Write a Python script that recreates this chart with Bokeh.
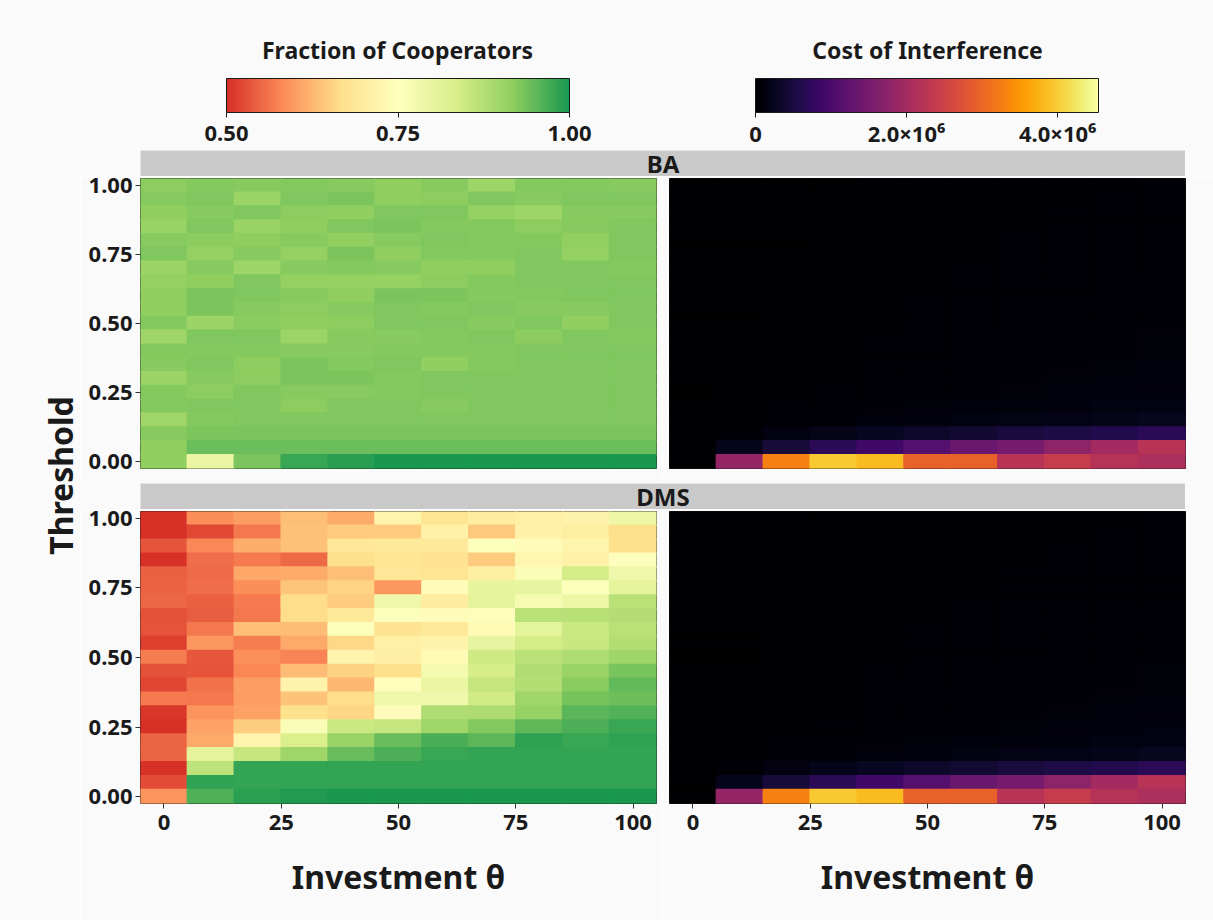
import numpy as np
from bokeh.plotting import figure
from bokeh.models import (ColumnDataSource, LinearColorMapper, ColorBar, FixedTicker,
                          Label, Range1d, PrintfTickFormatter, CustomJSTickFormatter)
from bokeh.layouts import row, column
from bokeh.transform import transform
from bokeh.palettes import Inferno256
from bokeh.embed import file_html
from bokeh.resources import INLINE

# ---------------- data ----------------
investment = [0, 10, 20, 30, 40, 50, 60, 70, 80, 90, 100]
# rows listed from threshold 1.00 (top) down to 0.00 (bottom)
threshold_top_down = [1.00, 0.95, 0.90, 0.85, 0.80, 0.75, 0.70, 0.65, 0.60, 0.55, 0.50,
                      0.45, 0.40, 0.35, 0.30, 0.25, 0.20, 0.15, 0.10, 0.05, 0.00]

coop_ba = [
    [0.918, 0.925, 0.923, 0.924, 0.922, 0.917, 0.923, 0.902, 0.924, 0.925, 0.923],
    [0.923, 0.929, 0.906, 0.929, 0.930, 0.917, 0.918, 0.928, 0.923, 0.928, 0.929],
    [0.917, 0.923, 0.929, 0.918, 0.917, 0.929, 0.929, 0.912, 0.902, 0.922, 0.923],
    [0.907, 0.929, 0.907, 0.917, 0.929, 0.930, 0.924, 0.925, 0.918, 0.923, 0.929],
    [0.923, 0.918, 0.917, 0.922, 0.915, 0.923, 0.929, 0.924, 0.925, 0.916, 0.929],
    [0.929, 0.914, 0.923, 0.913, 0.930, 0.917, 0.924, 0.925, 0.929, 0.914, 0.929],
    [0.904, 0.923, 0.902, 0.923, 0.924, 0.923, 0.917, 0.917, 0.929, 0.929, 0.924],
    [0.913, 0.917, 0.929, 0.914, 0.914, 0.911, 0.918, 0.924, 0.929, 0.929, 0.928],
    [0.917, 0.930, 0.928, 0.923, 0.917, 0.930, 0.930, 0.924, 0.924, 0.929, 0.929],
    [0.915, 0.930, 0.923, 0.918, 0.923, 0.929, 0.924, 0.929, 0.923, 0.922, 0.929],
    [0.924, 0.904, 0.921, 0.917, 0.918, 0.929, 0.929, 0.923, 0.929, 0.915, 0.929],
    [0.899, 0.929, 0.929, 0.904, 0.922, 0.923, 0.924, 0.929, 0.918, 0.929, 0.924],
    [0.924, 0.924, 0.925, 0.922, 0.923, 0.924, 0.924, 0.924, 0.929, 0.929, 0.929],
    [0.923, 0.929, 0.918, 0.930, 0.924, 0.929, 0.916, 0.924, 0.929, 0.929, 0.929],
    [0.903, 0.923, 0.918, 0.930, 0.930, 0.924, 0.929, 0.929, 0.929, 0.929, 0.929],
    [0.924, 0.918, 0.929, 0.922, 0.923, 0.924, 0.929, 0.929, 0.929, 0.929, 0.929],
    [0.924, 0.929, 0.929, 0.918, 0.929, 0.929, 0.923, 0.929, 0.929, 0.929, 0.929],
    [0.899, 0.925, 0.929, 0.929, 0.929, 0.929, 0.929, 0.929, 0.929, 0.929, 0.929],
    [0.922, 0.930, 0.930, 0.930, 0.930, 0.930, 0.930, 0.930, 0.930, 0.930, 0.930],
    [0.917, 0.943, 0.943, 0.943, 0.943, 0.943, 0.943, 0.943, 0.943, 0.943, 0.943],
    [0.915, 0.796, 0.931, 0.977, 0.990, 0.999, 0.999, 0.999, 0.999, 0.999, 0.999],
]

coop_dms = [
    [0.500, 0.585, 0.600, 0.633, 0.615, 0.720, 0.680, 0.700, 0.710, 0.715, 0.790],
    [0.500, 0.523, 0.565, 0.635, 0.648, 0.648, 0.712, 0.643, 0.712, 0.705, 0.668],
    [0.535, 0.580, 0.617, 0.635, 0.685, 0.690, 0.690, 0.757, 0.740, 0.720, 0.668],
    [0.500, 0.556, 0.567, 0.552, 0.668, 0.683, 0.678, 0.645, 0.725, 0.712, 0.755],
    [0.543, 0.553, 0.610, 0.615, 0.633, 0.685, 0.680, 0.705, 0.760, 0.838, 0.785],
    [0.545, 0.555, 0.585, 0.640, 0.655, 0.595, 0.740, 0.803, 0.800, 0.757, 0.805],
    [0.550, 0.543, 0.567, 0.665, 0.648, 0.785, 0.700, 0.807, 0.770, 0.790, 0.870],
    [0.530, 0.540, 0.565, 0.665, 0.690, 0.757, 0.740, 0.745, 0.870, 0.872, 0.875],
    [0.532, 0.565, 0.633, 0.632, 0.757, 0.678, 0.690, 0.735, 0.810, 0.848, 0.870],
    [0.515, 0.595, 0.570, 0.612, 0.660, 0.710, 0.715, 0.800, 0.838, 0.850, 0.878],
    [0.570, 0.537, 0.587, 0.575, 0.720, 0.708, 0.735, 0.845, 0.870, 0.880, 0.900],
    [0.530, 0.535, 0.580, 0.630, 0.653, 0.668, 0.775, 0.837, 0.880, 0.905, 0.932],
    [0.520, 0.560, 0.600, 0.718, 0.625, 0.745, 0.795, 0.857, 0.878, 0.920, 0.948],
    [0.567, 0.565, 0.598, 0.637, 0.665, 0.785, 0.783, 0.843, 0.900, 0.934, 0.940],
    [0.507, 0.590, 0.605, 0.668, 0.657, 0.743, 0.880, 0.882, 0.910, 0.955, 0.960],
    [0.500, 0.607, 0.650, 0.762, 0.848, 0.857, 0.900, 0.925, 0.950, 0.963, 0.977],
    [0.548, 0.612, 0.720, 0.830, 0.905, 0.944, 0.966, 0.952, 0.985, 0.977, 0.984],
    [0.548, 0.808, 0.855, 0.900, 0.944, 0.963, 0.977, 0.982, 0.982, 0.982, 0.982],
    [0.500, 0.865, 0.982, 0.982, 0.982, 0.982, 0.982, 0.982, 0.982, 0.982, 0.982],
    [0.527, 0.984, 0.981, 0.981, 0.981, 0.981, 0.981, 0.981, 0.981, 0.981, 0.981],
    [0.590, 0.961, 0.987, 0.996, 1.000, 1.000, 1.000, 1.000, 1.000, 1.000, 1.000],
]

# cost of interference, in millions
cost_ba_m = [
    [0, 0.01, 0.01, 0.01, 0.02, 0.02, 0.02, 0.03, 0.03, 0.03, 0.04],
    [0, 0.01, 0.01, 0.02, 0.02, 0.02, 0.03, 0.03, 0.03, 0.04, 0.04],
    [0, 0.01, 0.01, 0.02, 0.02, 0.03, 0.03, 0.03, 0.04, 0.04, 0.04],
    [0, 0.01, 0.01, 0.02, 0.02, 0.03, 0.03, 0.03, 0.04, 0.04, 0.05],
    [0, 0.01, 0.01, 0.02, 0.02, 0.03, 0.03, 0.04, 0.04, 0.04, 0.05],
    [0, 0.01, 0.01, 0.02, 0.03, 0.03, 0.03, 0.04, 0.04, 0.05, 0.05],
    [0, 0.01, 0.02, 0.02, 0.03, 0.03, 0.04, 0.04, 0.04, 0.05, 0.05],
    [0, 0.01, 0.02, 0.02, 0.03, 0.03, 0.04, 0.04, 0.05, 0.05, 0.06],
    [0, 0.01, 0.02, 0.02, 0.03, 0.04, 0.04, 0.05, 0.05, 0.06, 0.06],
    [0, 0.01, 0.02, 0.03, 0.03, 0.04, 0.04, 0.05, 0.05, 0.06, 0.07],
    [0, 0.01, 0.02, 0.03, 0.03, 0.04, 0.05, 0.05, 0.06, 0.06, 0.07],
    [0, 0.01, 0.02, 0.03, 0.04, 0.04, 0.05, 0.06, 0.06, 0.07, 0.08],
    [0, 0.01, 0.02, 0.03, 0.04, 0.05, 0.05, 0.06, 0.07, 0.07, 0.08],
    [0, 0.01, 0.02, 0.03, 0.04, 0.05, 0.06, 0.06, 0.07, 0.08, 0.09],
    [0, 0.01, 0.02, 0.03, 0.04, 0.05, 0.06, 0.07, 0.08, 0.09, 0.10],
    [0, 0.02, 0.03, 0.04, 0.05, 0.06, 0.07, 0.08, 0.09, 0.10, 0.12],
    [0, 0.02, 0.04, 0.05, 0.06, 0.08, 0.09, 0.10, 0.12, 0.13, 0.15],
    [0, 0.03, 0.05, 0.07, 0.09, 0.11, 0.14, 0.16, 0.18, 0.20, 0.25],
    [0, 0.07, 0.14, 0.20, 0.27, 0.34, 0.41, 0.48, 0.54, 0.59, 0.68],
    [0, 0.23, 0.45, 0.68, 0.91, 1.13, 1.36, 1.50, 1.77, 2.00, 2.22],
    [0, 1.82, 3.27, 3.97, 3.84, 2.93, 2.93, 2.22, 2.41, 2.20, 2.11],
]

cost_dms_m = [
    [0, 0.01, 0.01, 0.01, 0.02, 0.02, 0.02, 0.03, 0.03, 0.03, 0.04],
    [0, 0.01, 0.01, 0.02, 0.02, 0.02, 0.03, 0.03, 0.03, 0.04, 0.04],
    [0, 0.01, 0.01, 0.02, 0.02, 0.03, 0.03, 0.03, 0.04, 0.04, 0.04],
    [0, 0.01, 0.01, 0.02, 0.02, 0.03, 0.03, 0.03, 0.04, 0.04, 0.05],
    [0, 0.01, 0.01, 0.02, 0.02, 0.03, 0.03, 0.04, 0.04, 0.04, 0.05],
    [0, 0.01, 0.01, 0.02, 0.03, 0.03, 0.03, 0.04, 0.04, 0.05, 0.05],
    [0, 0.01, 0.02, 0.02, 0.03, 0.03, 0.04, 0.04, 0.04, 0.05, 0.05],
    [0, 0.01, 0.02, 0.02, 0.03, 0.03, 0.04, 0.04, 0.05, 0.05, 0.06],
    [0, 0.01, 0.02, 0.02, 0.03, 0.04, 0.04, 0.05, 0.05, 0.06, 0.06],
    [0, 0.01, 0.02, 0.03, 0.03, 0.04, 0.04, 0.05, 0.05, 0.06, 0.07],
    [0, 0.01, 0.02, 0.03, 0.03, 0.04, 0.05, 0.05, 0.06, 0.06, 0.07],
    [0, 0.01, 0.02, 0.03, 0.04, 0.04, 0.05, 0.06, 0.06, 0.07, 0.08],
    [0, 0.01, 0.02, 0.03, 0.04, 0.05, 0.05, 0.06, 0.07, 0.07, 0.08],
    [0, 0.01, 0.02, 0.03, 0.04, 0.05, 0.06, 0.06, 0.07, 0.08, 0.09],
    [0, 0.01, 0.02, 0.03, 0.04, 0.05, 0.06, 0.07, 0.08, 0.09, 0.10],
    [0, 0.02, 0.03, 0.04, 0.05, 0.06, 0.07, 0.08, 0.09, 0.10, 0.12],
    [0, 0.02, 0.04, 0.05, 0.06, 0.08, 0.09, 0.10, 0.12, 0.13, 0.15],
    [0, 0.03, 0.05, 0.07, 0.09, 0.11, 0.14, 0.16, 0.18, 0.20, 0.25],
    [0, 0.07, 0.14, 0.20, 0.27, 0.34, 0.41, 0.48, 0.54, 0.59, 0.68],
    [0, 0.23, 0.45, 0.68, 0.91, 1.13, 1.36, 1.50, 1.77, 2.00, 2.22],
    [0, 1.82, 3.27, 3.97, 3.84, 2.93, 2.93, 2.22, 2.41, 2.20, 2.11],
]

coop_ticks = [0.50, 0.75, 1.00]
cost_ticks = [0, 2.0e6, 4.0e6]
x_ticks = [0, 25, 50, 75, 100]
y_ticks = [0.00, 0.25, 0.50, 0.75, 1.00]
facets = ["BA", "DMS"]

# ---------------- palettes ----------------
def interp_palette(anchors, n=256):
    rgb = np.array([[int(c[i:i + 2], 16) for i in (1, 3, 5)] for c in anchors], dtype=float)
    pos = np.linspace(0, 1, len(anchors))
    t = np.linspace(0, 1, n)
    out = []
    for tt in t:
        r = np.interp(tt, pos, rgb[:, 0]); g = np.interp(tt, pos, rgb[:, 1]); b = np.interp(tt, pos, rgb[:, 2])
        out.append("#%02x%02x%02x" % (int(round(r)), int(round(g)), int(round(b))))
    return out

rdylgn = interp_palette(["#D73027", "#FC8D59", "#FEE08B", "#FFFFBF", "#D9EF8B", "#91CF60", "#1A9850"])
coop_mapper = LinearColorMapper(palette=rdylgn, low=0.5, high=1.0)
cost_mapper = LinearColorMapper(palette=Inferno256, low=0.0, high=4.54e6)

FONT = "Noto Sans"
BG = "#FAFAFA"
INK = "#1A1A1A"
STRIP = "#C9C9C9"
TICK_PX = "22px"

def blank(w, h, color=BG):
    b = figure(width=w, height=h, x_range=Range1d(0, 1), y_range=Range1d(0, 1),
               output_backend="svg", toolbar_location=None,
               x_axis_location=None, y_axis_location=None, min_border=0,
               background_fill_color=color, border_fill_color=color, outline_line_color=None)
    b.grid.visible = False
    return b

def panel(values, mapper, scale, show_y, show_x, frame_h, mb_left, mb_right, mb_bottom):
    xs, ys, vs = [], [], []
    for i, t in enumerate(threshold_top_down):
        for j, inv in enumerate(investment):
            xs.append(inv); ys.append(t); vs.append(values[i][j] * scale)
    src = ColumnDataSource(dict(x=xs, y=ys, v=vs))
    p = figure(frame_width=516, frame_height=frame_h,
               x_range=Range1d(-5, 105), y_range=Range1d(-0.025, 1.025),
               output_backend="svg", toolbar_location=None,
               x_axis_location="below" if show_x else None,
               y_axis_location="left" if show_y else None,
               min_border_left=mb_left, min_border_right=mb_right,
               min_border_top=2, min_border_bottom=mb_bottom,
               background_fill_color=BG, border_fill_color=BG,
               outline_line_color=INK, outline_line_width=1)
    p.rect(x="x", y="y", width=10, height=0.05, source=src,
           fill_color=transform("v", mapper), line_color=transform("v", mapper), line_width=1.6)
    p.grid.visible = False
    for ax in p.axis:
        ax.axis_line_color = None
        ax.major_tick_line_color = "#333333"
        ax.major_tick_out = 5
        ax.major_tick_in = 0
        ax.minor_tick_line_color = None
        ax.major_label_text_font = FONT
        ax.major_label_text_font_style = "bold"
        ax.major_label_text_font_size = TICK_PX
        ax.major_label_text_color = INK
    if show_y:
        p.yaxis.ticker = FixedTicker(ticks=y_ticks)
        p.yaxis.formatter = PrintfTickFormatter(format="%.2f")
        p.yaxis.major_label_standoff = 3
    if show_x:
        p.xaxis.ticker = FixedTicker(ticks=x_ticks)
        p.xaxis.major_label_standoff = 6
        p.xaxis.axis_label = "Investment θ"
        p.xaxis.axis_label_text_font = FONT
        p.xaxis.axis_label_text_font_style = "bold"
        p.xaxis.axis_label_text_font_size = "32px"
        p.xaxis.axis_label_text_color = INK
        p.xaxis.axis_label_standoff = 22
    return p

def strip(text):
    s = blank(1045, 26, STRIP)
    s.add_layout(Label(x=0.5, y=0.5, text=text, text_align="center", text_baseline="middle",
                       text_font=FONT, text_font_style="bold", text_font_size="24px", text_color=INK))
    return s

# ---------------- top colour bars ----------------
top = blank(1133, 150)

def cbar(mapper, ticks, formatter, loc, standoff):
    return ColorBar(color_mapper=mapper, orientation="horizontal", width=343, height=34,
                    location=loc, padding=0, ticker=FixedTicker(ticks=ticks), formatter=formatter,
                    bar_line_color=INK, bar_line_width=1,
                    major_tick_line_color=INK, major_tick_out=5, major_tick_in=0,
                    minor_tick_line_color=None, label_standoff=standoff,
                    major_label_text_font=FONT, major_label_text_font_style="bold",
                    major_label_text_font_size=TICK_PX, major_label_text_color=INK,
                    background_fill_color=None, border_line_color=None)

top.add_layout(cbar(coop_mapper, coop_ticks, PrintfTickFormatter(format="%.2f"), (146, 7), 8), "center")
top.add_layout(cbar(cost_mapper, cost_ticks,
                    CustomJSTickFormatter(code="return tick == 0 ? '0' : (tick/1e6).toFixed(1) + '\u00d710\u2076';"),
                    (675, 0), 0), "center")
for txt, cx in (("Fraction of Cooperators", 317), ("Cost of Interference", 847)):
    top.add_layout(Label(x=cx, y=101, x_units="screen", y_units="screen", text=txt,
                         text_align="center", text_baseline="middle", text_font=FONT,
                         text_font_style="bold", text_font_size="23px", text_color=INK))

# ---------------- panels ----------------
ba_left = panel(coop_ba, coop_mapper, 1.0, True, False, 290, 60, 6, 15)
ba_right = panel(cost_ba_m, cost_mapper, 1e6, False, False, 290, 7, 28, 15)
dms_left = panel(coop_dms, coop_mapper, 1.0, True, True, 292, 60, 6, 117)
dms_right = panel(cost_dms_m, cost_mapper, 1e6, False, True, 292, 7, 28, 117)

# ---------------- y label ----------------
ylab = blank(80, 920)
ylab.add_layout(Label(x=60, y=445, x_units="screen", y_units="screen", text="Threshold",
                      angle=90, angle_units="deg", text_align="center", text_baseline="middle",
                      text_font=FONT, text_font_style="bold", text_font_size="32px", text_color=INK))

right_col = column(
    top,
    row(blank(60, 26), strip(facets[0]), blank(28, 26)),
    row(ba_left, ba_right),
    row(blank(60, 26), strip(facets[1]), blank(28, 26)),
    row(dms_left, dms_right),
)
layout = row(ylab, right_col)

open("out.html", "w").write(file_html(layout, INLINE))
